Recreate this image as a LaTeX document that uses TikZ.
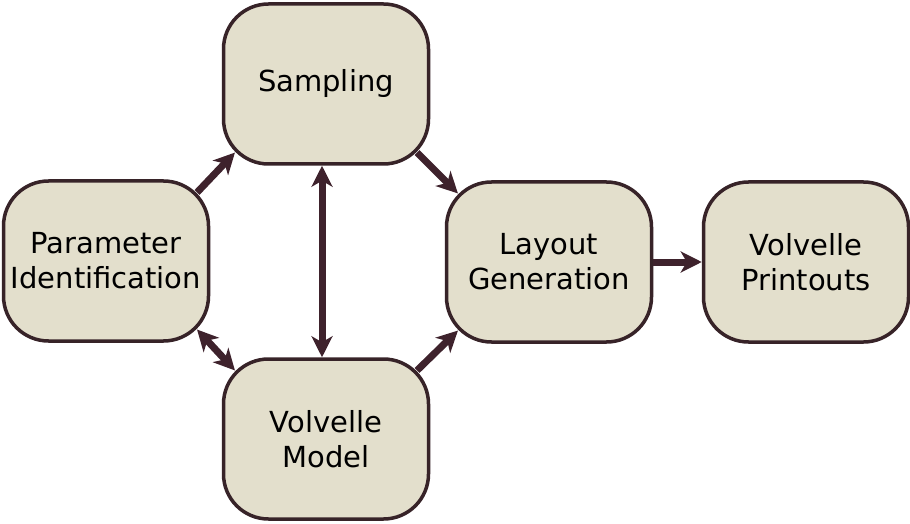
\documentclass[tikz,border=0pt]{standalone}
\usepackage{fontspec}
\setmainfont{DejaVu Sans}
\usetikzlibrary{arrows.meta,calc}
\definecolor{boxfill}{RGB}{227,223,204}
\definecolor{boxline}{RGB}{55,35,40}
\definecolor{arrowcol}{RGB}{62,34,44}
\tikzset{
  stagebox/.style={draw=boxline, fill=boxfill, line width=3.5pt, rounded corners=45pt,
    minimum width=205pt, minimum height=160pt, align=center, inner sep=0pt,
    font=\fontsize{29}{35}\selectfont, text=black},
  conn/.style={draw=arrowcol, line width=7pt, -{Stealth[length=21pt,width=21pt,inset=6pt]}},
  bconn/.style={draw=arrowcol, line width=7pt, {Stealth[length=21pt,width=21pt,inset=6pt]}-{Stealth[length=21pt,width=21pt,inset=6pt]}}
}
\begin{document}
\begin{tikzpicture}[x=1pt,y=1pt]
\useasboundingbox (0,0) rectangle (910,523);
\node[stagebox] (samp) at (326,439) {\raisebox{-3pt}{Sampling}};
\node[stagebox] (param) at (106,262) {Parameter\\Identification};
\node[stagebox] (layout) at (549,261) {Layout\\Generation};
\node[stagebox] (print) at (806,261) {Volvelle\\Printouts};
\node[stagebox] (model) at (326,84) {Volvelle\\Model};
\def\co{13.2pt}
\coordinate (samp-sw) at ($(samp.south west)+(\co,\co)$);
\coordinate (samp-se) at ($(samp.south east)+(-\co,\co)$);
\coordinate (param-ne) at ($(param.north east)+(-\co,-\co)$);
\coordinate (param-se) at ($(param.south east)+(-\co,\co)$);
\coordinate (layout-nw) at ($(layout.north west)+(\co,-\co)$);
\coordinate (layout-sw) at ($(layout.south west)+(\co,\co)$);
\coordinate (model-nw) at ($(model.north west)+(\co,-\co)$);
\coordinate (model-ne) at ($(model.north east)+(-\co,-\co)$);
\coordinate (samp-s) at ($(samp.south)+(-4,0)$);
\coordinate (model-n) at ($(model.north)+(-4,0)$);
\draw[conn] (param-ne) -- (samp-sw);
\draw[conn] (samp-se) -- (layout-nw);
\draw[bconn] (param-se) -- (model-nw);
\draw[bconn] (samp-s) -- (model-n);
\draw[conn] (model-ne) -- (layout-sw);
\draw[conn] (layout.east) -- (print.west);
\end{tikzpicture}
\end{document}
